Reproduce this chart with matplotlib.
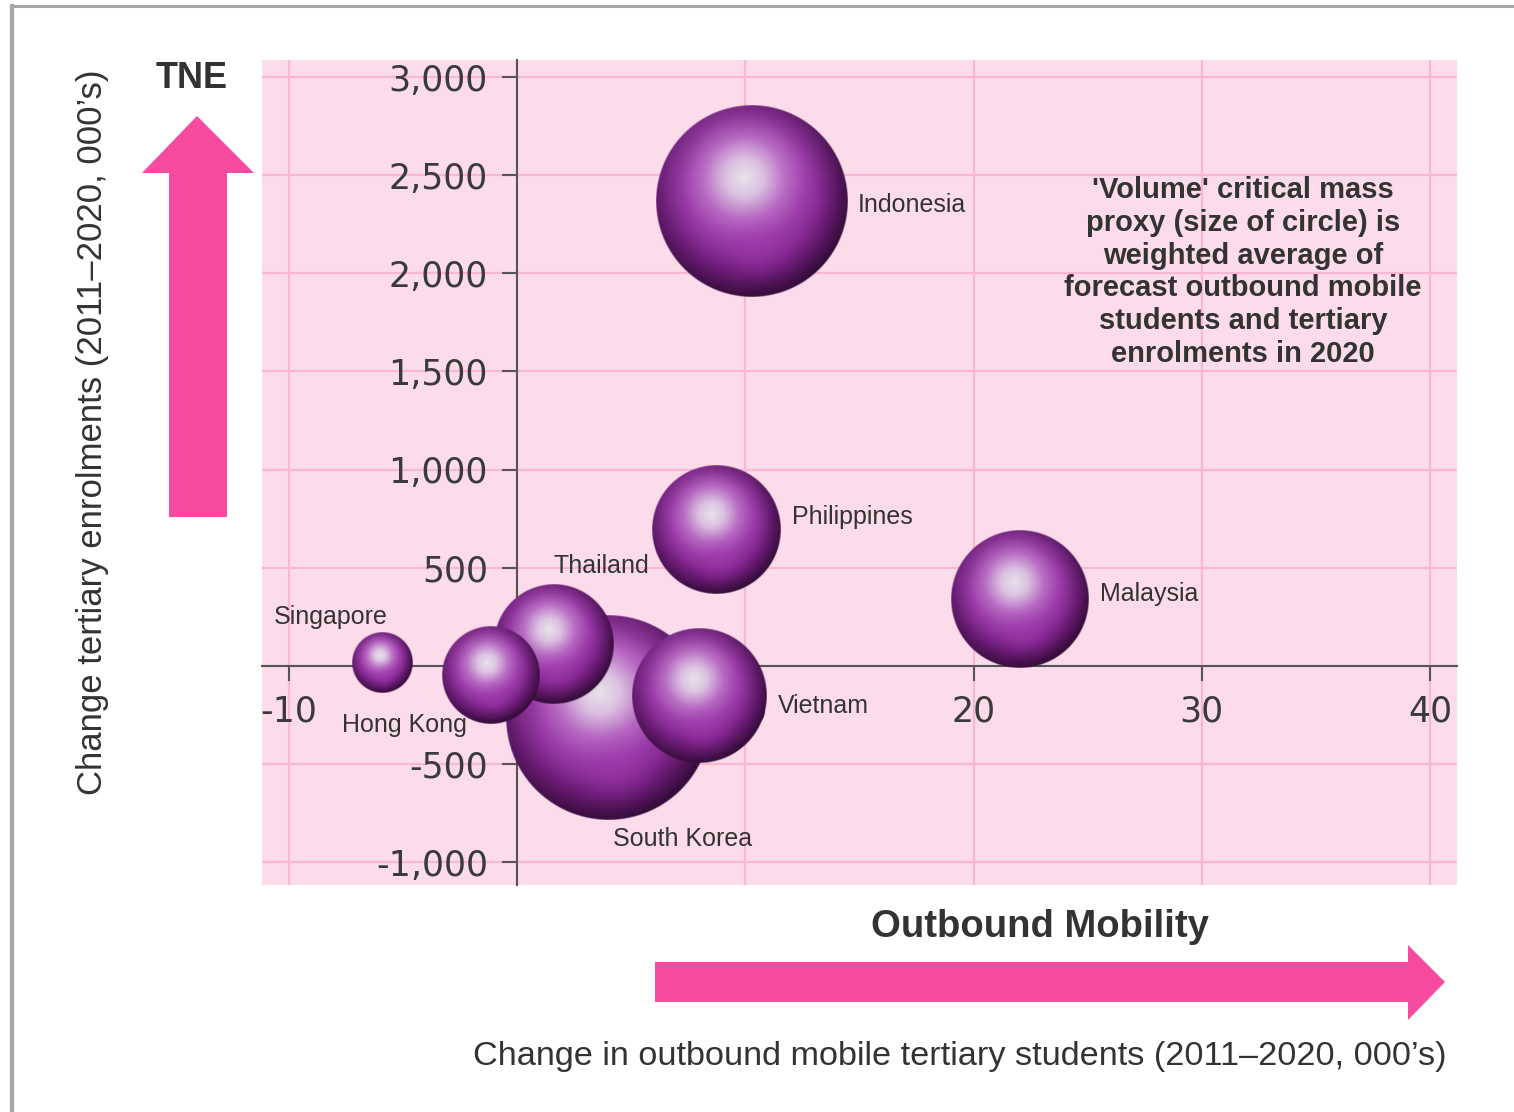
import numpy as np
import matplotlib
matplotlib.use("Agg")
import matplotlib.pyplot as plt
from matplotlib.colors import LinearSegmentedColormap, to_rgb
from matplotlib.patches import Polygon
from matplotlib.lines import Line2D
from matplotlib.ticker import FuncFormatter

plt.rcParams["axes.unicode_minus"] = False

# drawn back to front so the overlapping bubbles stack correctly
countries = ["South Korea", "Thailand", "Hong Kong", "Vietnam",
             "Singapore", "Philippines", "Malaysia", "Indonesia"]
mobility_change = [4.0, 1.6, -1.15, 8.0, -5.9, 8.75, 22.0, 10.3]   # 000's students
tne_change = [-265, 110, -45, -150, 15, 695, 340, 2370]             # 000's enrolments
volume = [10500, 3600, 2400, 4550, 930, 4150, 4700, 9200]           # critical mass proxy

x_ticks = [-10, 0, 10, 20, 30, 40]
y_ticks = [-1000, -500, 0, 500, 1000, 1500, 2000, 2500, 3000]

# where each name sits relative to its bubble (points)
label_offsets = {
    "South Korea": (3, -87),
    "Thailand": (0, 56),
    "Hong Kong": (-107, -36),
    "Vietnam": (56, -8),
    "Singapore": (-78, 33),
    "Philippines": (54, 9),
    "Malaysia": (58, 4),
    "Indonesia": (76, -3),
}

W, H = 1514, 1112
PINK = "#fcdcea"
ARROW = "#f74ba0"
TEXT = "#333333"
FONT = "Liberation Sans"


def fx(px):
    return px / W


def fy(py):
    return 1 - py / H


body = LinearSegmentedColormap.from_list(
    "sphere", [(0.0, "#e8e2ea"), (0.16, "#dcc2e1"), (0.36, "#b86cc3"),
               (0.55, "#9c3caa"), (0.78, "#7a2186"), (1.0, "#5c1464")])


def sphere_rgba(r_px):
    n = int(max(60, 4 * r_px))
    v, u = np.mgrid[-1:1:n * 1j, -1:1:n * 1j]
    d = np.hypot(u, v)
    t = np.clip(np.hypot(u + 0.08, v - 0.24) / 1.2, 0, 1)
    rgb = body(t)[..., :3]
    # soft magenta bounce light in the lower half
    g = np.exp(-((u - 0.08) ** 2 + (v + 0.5) ** 2) / 0.09)[..., None]
    rgb = rgb * (1 - 0.4 * g) + np.array(to_rgb("#a63ab4")) * 0.4 * g
    # darker rim, heavier to the lower right
    rim = np.clip((d - 0.6) / 0.4, 0, 1) ** 1.6
    side = np.clip(0.5 + 0.35 * u - 0.35 * v, 0, 1)
    rgb = rgb * (1 - rim * (0.15 + 0.3 * side))[..., None]
    alpha = np.clip((1 - d) * r_px + 0.5, 0, 1)[..., None]
    return np.concatenate([np.clip(rgb, 0, 1), alpha], axis=-1)


fig = plt.figure(figsize=(W / 100, H / 100), dpi=100)
ax = fig.add_axes([fx(262), fy(885), fx(1457) - fx(262), fy(60) - fy(885)])
ax.set_facecolor(PINK)

xlim = (-11.18, 41.18)
ylim = (-1117, 3087)
ax.set_xlim(xlim)
ax.set_ylim(ylim)

bbox = ax.get_window_extent()
px_per_x = bbox.width / (xlim[1] - xlim[0])
px_per_y = bbox.height / (ylim[1] - ylim[0])

for i, (name, x, y, vol) in enumerate(zip(countries, mobility_change, tne_change, volume)):
    r = np.sqrt(vol)
    rx, ry = r / px_per_x, r / px_per_y
    ax.imshow(sphere_rgba(r), extent=[x - rx, x + rx, y - ry, y + ry], origin="lower",
              aspect="auto", interpolation="bilinear", zorder=3 + i)
    ax.annotate(name, xy=(x, y), xytext=label_offsets[name], textcoords="offset points",
                ha="left", va="center", fontsize=18, family=FONT, color=TEXT, zorder=20)

ax.set_xlim(xlim)
ax.set_ylim(ylim)

ax.spines["left"].set_position(("data", 0))
ax.spines["bottom"].set_position(("data", 0))
for s in ("left", "bottom"):
    ax.spines[s].set_color("#555555")
    ax.spines[s].set_linewidth(1.5)
for s in ("top", "right"):
    ax.spines[s].set_visible(False)

ax.set_xticks(x_ticks)
ax.set_yticks(y_ticks)
fmt = FuncFormatter(lambda v, p: f"{v:,.0f}")
ax.xaxis.set_major_formatter(fmt)
ax.yaxis.set_major_formatter(fmt)
ax.tick_params(axis="both", direction="out", length=11, width=1.5, color="#555555",
               labelsize=25, labelcolor="#3a3a3a", pad=10)
ax.set_axisbelow(True)
ax.grid(True, color="#f8b8d4", linewidth=1.6)

# axis titles and annotation
fig.text(fx(93), fy(432), "Change tertiary enrolments (2011\u20132020, 000\u2019s)", rotation=90,
         ha="center", va="center", fontsize=25, family=FONT, color=TEXT)
fig.text(fx(960), fy(1057), "Change in outbound mobile tertiary students (2011\u20132020, 000\u2019s)",
         ha="center", va="center", fontsize=24.7, family=FONT, color=TEXT)
fig.text(fx(192), fy(78), "TNE", ha="center", va="center", fontsize=26,
         fontweight="bold", family=FONT, color=TEXT)
fig.text(fx(1040), fy(927), "Outbound Mobility", ha="center", va="center", fontsize=27.5,
         fontweight="bold", family=FONT, color=TEXT)
fig.text(fx(1243), fy(272), "'Volume' critical mass\nproxy (size of circle) is\nweighted average of\n"
         "forecast outbound mobile\nstudents and tertiary\nenrolments in 2020",
         ha="center", va="center", fontsize=21, fontweight="bold", family=FONT, color=TEXT,
         linespacing=1.22, zorder=20)

# direction arrows
up = [(169, 517), (169, 173), (142, 173), (197, 116), (254, 173), (227, 173), (227, 517)]
right = [(655, 962), (1408, 962), (1408, 945), (1445, 982), (1408, 1020), (1408, 1002), (655, 1002)]
for pts in (up, right):
    fig.patches.append(Polygon([(fx(a), fy(b)) for a, b in pts], closed=True,
                               transform=fig.transFigure, facecolor=ARROW, edgecolor="none"))

# outer frame
fig.lines.append(Line2D([fx(12), fx(12)], [0, fy(6)], transform=fig.transFigure,
                        color="#a6a6a6", linewidth=3))
fig.lines.append(Line2D([fx(12), 1], [fy(6), fy(6)], transform=fig.transFigure,
                        color="#a6a6a6", linewidth=2.2))

fig.savefig("out.png", dpi=100)
